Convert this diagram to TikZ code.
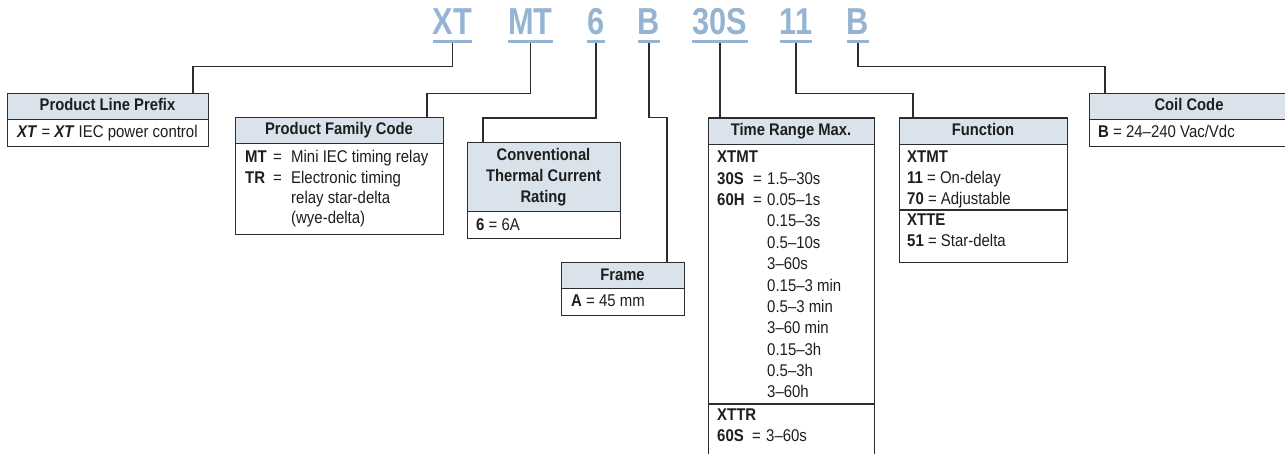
\documentclass[tikz,border=0pt]{standalone}
\usepackage{fontspec}
\setmainfont{Liberation Sans}[FakeStretch=0.88]
\newfontfamily\codefont{Liberation Sans}[FakeStretch=0.82]
\definecolor{hdrfill}{RGB}{218,227,236}
\definecolor{codeblue}{RGB}{149,180,212}
\definecolor{linec}{RGB}{45,45,45}
\definecolor{txtc}{RGB}{30,30,30}
\newcommand\mylbl[2]{\makebox[#1pt][l]{\bfseries #2}}
\newcommand\myeq[1]{\makebox[#1pt][l]{=}}
\begin{document}
\begin{tikzpicture}[x=1pt,y=-1pt,
  conn/.style={draw=linec,line width=1.3pt},
  boxf/.style={draw=linec,line width=1.2pt,rectangle,inner sep=0pt,anchor=north west},
  hdr/.style={fill=hdrfill,draw=linec,line width=1.2pt,rectangle,inner sep=0pt,anchor=north west},
  codetxt/.style={font=\codefont\fontsize{37.5}{37.5}\selectfont\bfseries,text=codeblue,inner sep=0pt,anchor=base},
  htext/.style={font=\fontsize{16.8}{21}\selectfont\bfseries,text=txtc,inner sep=0pt,anchor=base,align=center},
  btext/.style={font=\fontsize{17}{21}\selectfont,text=txtc,inner sep=0pt,anchor=base west}]
\useasboundingbox (0,0) rectangle (1285,454);
\clip (0,0) rectangle (1285,454);

% ---- code letters
\node[codetxt] (c1) at (452.5,35) {XT};
\node[codetxt] (c2) at (530.5,35) {MT};
\node[codetxt] (c3) at (596,35) {6};
\node[codetxt] (c4) at (649,35) {B};
\node[codetxt] (c5) at (720,35) {30S};
\node[codetxt] (c6) at (796,35) {11};
\node[codetxt] (c7) at (858,35) {B};
\foreach \c in {c1,c2,c3,c4,c5,c6,c7}{
  \draw[codeblue,line width=3pt] ([yshift=-6pt]\c.south west) -- ([yshift=-6pt]\c.south east);
  \coordinate (u\c) at ([yshift=-7.5pt]\c.south);
}

% ---- Product Line Prefix
\node[boxf,minimum width=201pt,minimum height=53pt] (plp) at (7,93) {};
\node[hdr,minimum width=201pt,minimum height=26pt] (plph) at (7,93) {};
\node[htext] (plpt) at (107.5,111) {Product Line Prefix};
\node[btext] (plpb) at (17,138) {\textbf{\itshape XT} = \textbf{\itshape XT} IEC power control};

% ---- Product Family Code
\node[boxf,minimum width=208pt,minimum height=117pt] (pfc) at (235,117) {};
\node[hdr,minimum width=208pt,minimum height=26pt] (pfch) at (235,117) {};
\node[htext] (pfct) at (339,135) {Product Family Code};
\node[btext] (pf1) at (245,163) {\mylbl{28}{MT}\myeq{18}Mini IEC timing relay};
\node[btext] (pf2) at (245,183.2) {\mylbl{28}{TR}\myeq{18}Electronic timing};
\node[btext] (pf3) at (291,203.4) {relay star-delta};
\node[btext] (pf4) at (291,223.6) {(wye-delta)};

% ---- Conventional Thermal Current Rating
\node[boxf,minimum width=153pt,minimum height=96pt] (ctc) at (467,142) {};
\node[hdr,minimum width=153pt,minimum height=69pt] (ctch) at (467,142) {};
\node[htext,anchor=center] (ctct) at (543.5,177.5) {Conventional\\Thermal Current\\Rating};
\node[btext] (ctcb) at (476,231) {\textbf{6} = 6A};

% ---- Frame
\node[boxf,minimum width=123pt,minimum height=53pt] (frm) at (561,262) {};
\node[hdr,minimum width=123pt,minimum height=26pt] (frmh) at (561,262) {};
\node[htext] (frmt) at (622.5,281) {Frame};
\node[btext] (frmb) at (571,307) {\textbf{A} = 45 mm};

% ---- Time Range Max.
\node[boxf,minimum width=166pt,minimum height=345pt] (trm) at (708,117.5) {};
\node[hdr,minimum width=166pt,minimum height=26.5pt] (trmh) at (708,117.5) {};
\node[htext] (trmt) at (791,136) {Time Range Max.};
\node[btext] (tr1) at (717,163) {\bfseries XTMT};
\node[btext] (tr2) at (717,184.3) {\mylbl{36}{30S}\myeq{14}1.5–30s};
\node[btext] (tr3) at (717,205.7) {\mylbl{36}{60H}\myeq{14}0.05–1s};
\node[btext] (tr4) at (767,227) {0.15–3s};
\node[btext] (tr5) at (767,248.4) {0.5–10s};
\node[btext] (tr6) at (767,269.8) {3–60s};
\node[btext] (tr7) at (767,291.1) {0.15–3 min};
\node[btext] (tr8) at (767,312.5) {0.5–3 min};
\node[btext] (tr9) at (767,333.8) {3–60 min};
\node[btext] (tr10) at (767,355.2) {0.15–3h};
\node[btext] (tr11) at (767,376.5) {0.5–3h};
\node[btext] (tr12) at (767,397.9) {3–60h};
\coordinate (trdl) at (708,404);
\coordinate (trdr) at (874,404);
\draw[linec,line width=1.2pt] (trdl) -- (trdr);
\node[btext] (tr13) at (717,420) {\bfseries XTTR};
\node[btext] (tr14) at (717,441) {\mylbl{35}{60S}\myeq{14}3–60s};

% ---- Function
\node[boxf,minimum width=168pt,minimum height=144.5pt] (fn) at (899,117.5) {};
\node[hdr,minimum width=168pt,minimum height=26.5pt] (fnh) at (899,117.5) {};
\node[htext] (fnt) at (983,136) {Function};
\node[btext] (fn1) at (907,163) {\bfseries XTMT};
\node[btext] (fn2) at (907,184) {\textbf{11} = On-delay};
\node[btext] (fn3) at (907,205) {\textbf{70} = Adjustable};
\coordinate (fndl) at (899,210);
\coordinate (fndr) at (1067,210);
\draw[linec,line width=1.2pt] (fndl) -- (fndr);
\node[btext] (fn4) at (907,226) {\bfseries XTTE};
\node[btext] (fn5) at (907,247) {\textbf{51} = Star-delta};

% ---- Coil Code
\node[boxf,minimum width=200pt,minimum height=53pt] (coil) at (1089,93) {};
\node[hdr,minimum width=200pt,minimum height=26pt] (coilh) at (1089,93) {};
\node[htext] (coilt) at (1189,111) {Coil Code};
\node[btext] (coilb) at (1098,138) {\textbf{B} = 24–240 Vac/Vdc};

% ---- connectors
\draw[conn] (uc1) -- ++(0,24) -| ([xshift=186pt]plph.north west);
\draw[conn] (uc2) -- ++(0,51) -| ([xshift=192pt]pfch.north west);
\draw[conn] (uc3) -- ++(0,75) -| ([xshift=16pt]ctch.north west);
\draw[conn] (uc4) -- ++(0,75) -| ([xshift=106pt]frmh.north west);
\draw[conn] (uc5) -- (uc5 |- trmh.north);
\draw[conn] (uc6) -- ++(0,51) -| ([xshift=14pt]fnh.north west);
\draw[conn] (uc7) -- ++(0,24) -| ([xshift=16pt]coilh.north west);
\end{tikzpicture}
\end{document}
